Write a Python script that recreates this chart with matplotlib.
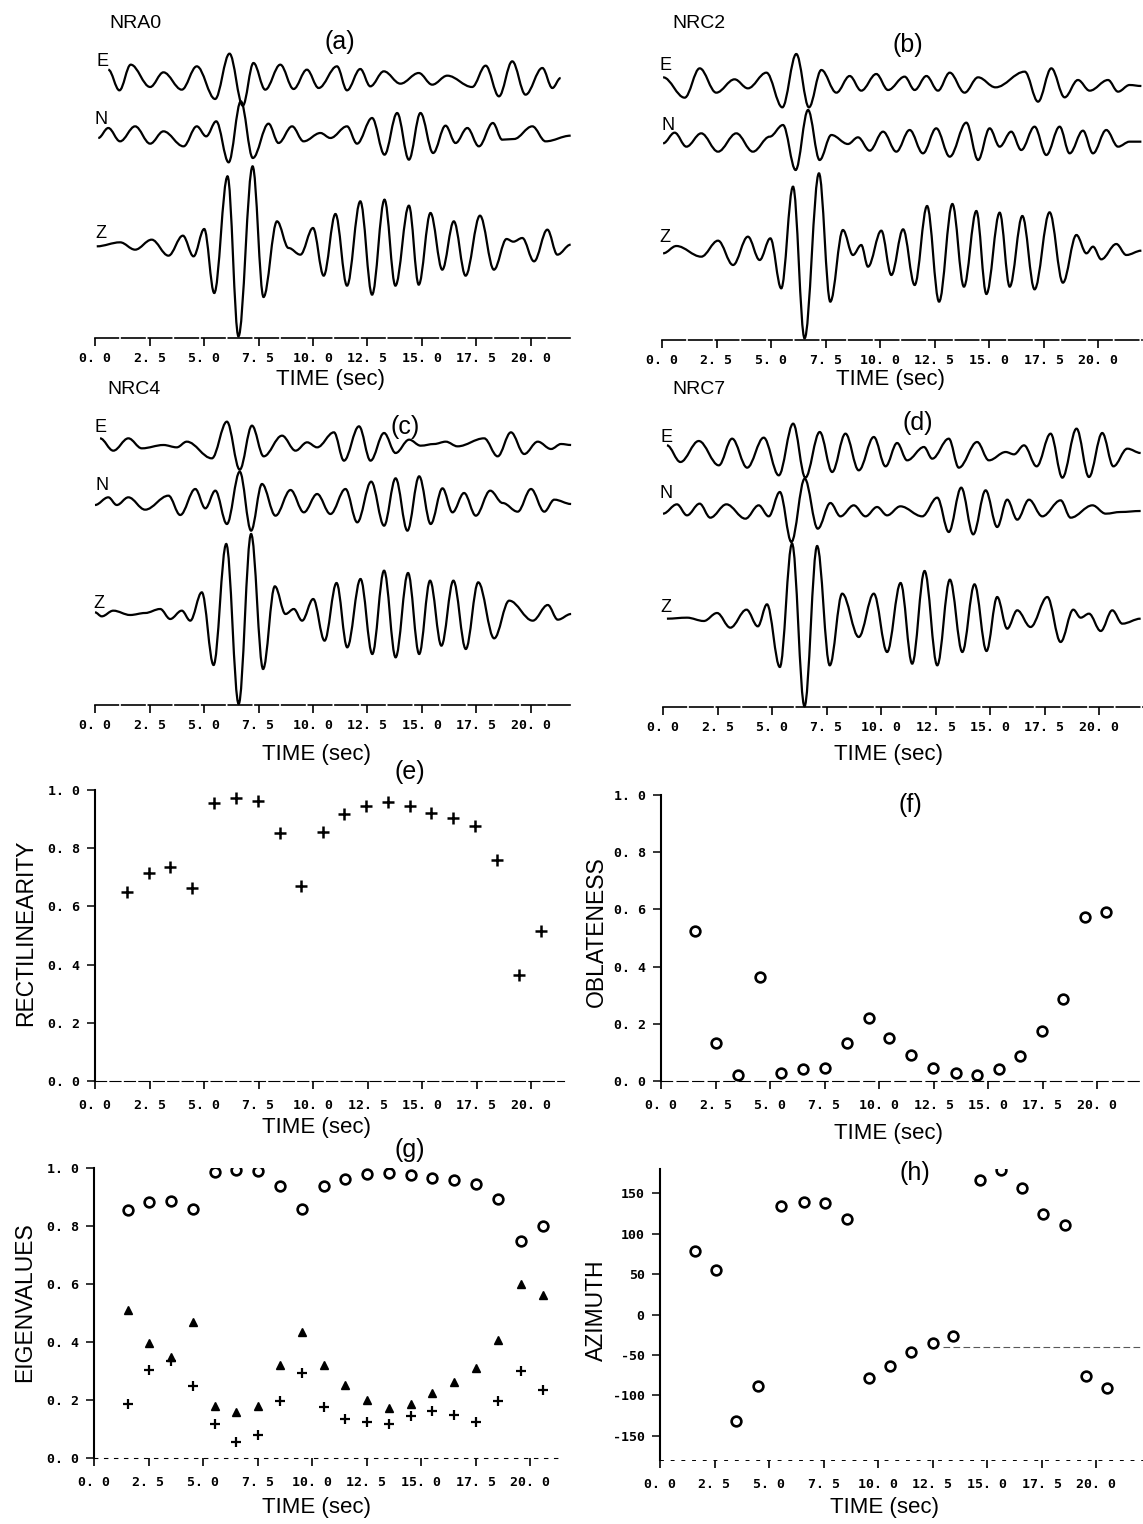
import matplotlib
matplotlib.use("Agg")
import matplotlib.pyplot as plt
from matplotlib.path import Path
from matplotlib.patches import PathPatch

W, H = 1143, 1524

# ---- seismogram extrema: (time [s], amplitude) ----
nra0_e = [(0.61, 1.5), (1.12, -4.7), (1.64, 3.0), (2.53, -3.7), (3.14, 0.7), (3.98, -4.5),
          (4.67, 2.5), (5.51, -7.3), (6.17, 6.3), (6.78, -9.3), (7.27, 3.5), (7.81, -4.5),
          (8.50, 3.0), (9.11, -4.3), (9.72, 1.5), (10.26, -4.0), (11.10, 2.5), (11.56, -4.7),
          (12.17, 1.7), (12.63, -3.5), (13.25, 1.0), (14.01, -2.7), (14.85, 0.5), (15.47, -3.0),
          (16.16, -0.3), (17.30, -3.7), (17.92, 2.7), (18.53, -6.5), (19.14, 4.0), (19.75, -6.0),
          (20.52, 2.0), (20.98, -4.0), (21.36, -1.0)]
nra0_n = [(0.15, -1.0), (0.61, 2.0), (1.15, -2.0), (1.84, 2.5), (2.53, -2.7), (3.14, 1.0),
          (4.06, -3.5), (4.67, 2.5), (5.10, -0.5), (5.56, 4.0), (6.13, -8.3), (6.69, 10.0),
          (7.24, -7.0), (7.96, 3.3), (8.42, -2.5), (9.04, 2.5), (9.57, -2.0), (10.34, 0.5),
          (10.80, -1.0), (11.56, 2.5), (12.02, -2.7), (12.71, 5.0), (13.28, -6.0), (13.86, 6.5),
          (14.40, -7.5), (14.93, 6.5), (15.51, -5.5), (16.08, 2.7), (16.54, -2.5), (17.08, 2.0),
          (17.61, -3.5), (18.25, 3.5), (18.68, -1.5), (19.22, -1.3), (20.06, 2.5), (20.67, -2.0),
          (21.82, -0.3)]
nra0_z = [(0.08, 0.0), (1.15, 1.2), (1.84, -1.0), (2.60, 2.0), (3.37, -2.8), (4.03, 3.2),
          (4.52, -3.0), (5.01, 5.2), (5.47, -14.0), (6.08, 21.0), (6.58, -27.0), (7.23, 24.0),
          (7.73, -15.2), (8.35, 7.5), (8.88, -0.5), (9.42, -2.5), (10.00, 5.5), (10.49, -8.8),
          (11.03, 9.7), (11.56, -11.8), (12.17, 13.5), (12.71, -14.5), (13.28, 14.0), (13.78, -11.8),
          (14.40, 12.2), (14.85, -11.5), (15.39, 10.0), (15.93, -7.0), (16.46, 7.5), (17.00, -8.8),
          (17.66, 9.2), (18.30, -7.0), (18.88, 2.2), (19.19, 1.4), (19.60, 2.5), (20.14, -4.5),
          (20.75, 5.0), (21.21, -2.5), (21.82, 0.5)]

nrc2_e = [(0.05, 0.8), (1.04, -5.3), (1.73, 3.5), (2.49, -3.8), (3.33, 0.2), (3.94, -2.5),
          (4.79, 2.2), (5.52, -8.2), (6.16, 7.8), (6.74, -8.2), (7.31, 3.0), (8.00, -3.8),
          (8.61, 1.2), (9.14, -3.2), (9.83, 1.8), (10.37, -3.0), (11.13, 1.0), (11.59, -3.0),
          (12.13, 1.2), (12.66, -3.2), (13.20, 2.2), (13.88, -3.8), (14.50, 0.8), (15.30, -2.2),
          (16.64, 2.5), (17.25, -6.5), (17.86, 3.5), (18.47, -5.2), (19.08, 0.0), (19.62, -3.2),
          (20.46, 0.0), (20.92, -3.5), (21.45, -1.5), (21.99, -1.8)]
nrc2_n = [(0.05, -1.5), (0.58, 1.7), (1.12, -2.5), (1.80, 1.5), (2.57, -4.0), (3.41, 1.5),
          (4.17, -4.0), (4.94, 0.5), (5.55, 4.0), (6.13, -9.5), (6.70, 8.5), (7.23, -6.5),
          (7.77, 1.0), (8.53, -1.7), (8.99, 0.3), (9.53, -3.7), (10.14, 2.0), (10.75, -4.0),
          (11.36, 2.5), (11.97, -4.5), (12.58, 3.0), (13.20, -5.5), (13.96, 4.7), (14.50, -6.5),
          (15.03, 3.0), (15.49, -2.5), (16.02, 2.0), (16.48, -3.5), (17.09, 3.5), (17.63, -5.0),
          (18.24, 3.5), (18.70, -4.5), (19.31, 2.3), (19.77, -4.5), (20.38, 2.5), (20.92, -2.5),
          (21.45, -1.0), (21.99, -1.0)]
nrc2_z = [(0.05, -0.5), (0.66, 1.7), (1.80, -1.5), (2.57, 3.3), (3.26, -4.0), (3.94, 4.5),
          (4.48, -2.5), (4.97, 4.0), (5.47, -11.0), (6.01, 19.5), (6.54, -26.0), (7.20, 23.5),
          (7.72, -15.0), (8.30, 6.5), (8.76, -1.0), (9.14, 2.0), (9.45, -4.5), (10.06, 6.3),
          (10.52, -7.0), (11.06, 6.7), (11.59, -10.0), (12.16, 13.7), (12.71, -15.0), (13.32, 14.3),
          (13.85, -10.5), (14.42, 12.2), (14.88, -12.7), (15.49, 11.7), (15.95, -10.5), (16.53, 10.7),
          (17.09, -11.3), (17.78, 11.8), (18.39, -9.3), (19.01, 5.0), (19.47, -0.5), (19.77, 1.5),
          (20.15, -2.3), (20.84, 2.3), (21.30, -1.0), (21.99, 0.3)]

nrc4_e = [(0.23, 2.2), (0.84, -1.5), (1.53, 2.2), (2.15, -0.8), (3.14, 0.2), (3.75, -0.5),
          (4.21, 1.2), (5.36, -3.8), (6.05, 7.2), (6.64, -7.2), (7.20, 6.0), (7.74, -3.2),
          (8.58, 3.0), (9.20, -1.5), (9.73, 1.0), (10.19, -0.5), (10.96, 4.0), (11.42, -4.5),
          (12.11, 5.8), (12.64, -4.5), (13.26, 3.8), (13.79, -2.2), (14.41, 1.8), (14.94, 0.0),
          (15.56, 0.5), (16.09, 1.2), (16.63, -0.2), (17.85, 2.2), (18.47, -3.2), (19.08, 4.0),
          (19.69, -2.5), (20.31, 1.2), (20.92, -1.0), (21.38, 0.5), (21.84, 0.2)]
nrc4_n = [(0.00, -0.8), (0.61, 1.5), (1.00, -0.8), (1.53, 1.5), (2.30, -2.2), (3.37, 2.0),
          (3.91, -3.8), (4.60, 4.0), (5.06, -1.8), (5.52, 3.5), (6.05, -6.5), (6.64, 9.2),
          (7.16, -8.5), (7.66, 5.5), (8.28, -4.0), (8.97, 3.7), (9.58, -3.0), (10.19, 2.5),
          (10.80, -3.5), (11.49, 4.0), (12.03, -6.0), (12.67, 6.2), (13.26, -7.0), (13.79, 7.2),
          (14.33, -8.5), (14.87, 7.8), (15.40, -6.5), (15.94, 4.2), (16.40, -3.0), (16.93, 2.8),
          (17.47, -4.0), (18.13, 3.5), (18.70, -0.2), (19.39, -2.8), (20.00, 4.0), (20.61, -2.8),
          (21.07, 0.8), (21.84, -0.5)]
nrc4_z = [(0.00, 0.5), (0.31, -0.7), (0.84, 1.0), (1.61, -0.3), (2.30, 0.3), (2.99, 1.5),
          (3.45, -1.5), (3.98, 1.0), (4.37, -2.0), (4.90, 6.5), (5.44, -15.3), (6.02, 21.0),
          (6.59, -27.0), (7.16, 24.0), (7.71, -16.5), (8.25, 8.3), (8.74, 0.0), (9.12, 1.5),
          (9.50, -2.0), (10.01, 4.5), (10.53, -8.0), (11.08, 9.3), (11.57, -10.0), (12.18, 10.5),
          (12.72, -12.0), (13.26, 13.0), (13.79, -13.0), (14.36, 12.3), (14.87, -12.0), (15.37, 10.0),
          (15.89, -9.5), (16.44, 10.0), (17.01, -10.5), (17.58, 9.5), (18.31, -7.3), (19.00, 4.0),
          (20.08, -2.0), (20.77, 2.7), (21.23, -1.7), (21.84, 0.0)]

nrc7_e = [(0.18, 1.5), (0.80, -3.5), (1.64, 2.8), (2.56, -4.5), (3.17, 3.5), (3.86, -5.2),
          (4.62, 3.8), (5.31, -7.5), (5.97, 8.0), (6.53, -8.2), (7.19, 5.5), (7.76, -6.5),
          (8.37, 5.0), (8.98, -6.0), (9.67, 4.0), (10.21, -4.8), (10.74, 2.2), (11.20, -3.0),
          (11.97, 1.0), (12.35, -2.5), (13.11, 3.5), (13.57, -5.2), (14.41, 2.5), (14.95, -3.0),
          (15.72, -0.5), (16.10, -1.2), (16.56, 1.5), (17.14, -4.8), (17.78, 5.0), (18.32, -8.2),
          (18.97, 6.5), (19.54, -8.0), (20.15, 5.2), (20.66, -4.8), (21.30, 0.5), (21.91, -0.8)]
nrc7_n = [(0.00, -0.5), (0.64, 2.3), (1.10, -1.0), (1.68, 2.5), (2.17, -1.7), (2.91, 2.3),
          (3.78, -2.0), (4.39, 2.0), (4.85, -1.3), (5.36, 6.0), (5.89, -9.0), (6.50, 10.0),
          (7.10, -5.0), (7.68, 2.7), (8.14, -1.3), (8.75, 2.0), (9.29, -1.3), (9.82, 1.5),
          (10.28, -1.0), (10.89, 1.7), (11.89, -1.3), (12.58, 4.3), (13.11, -6.0), (13.68, 7.3),
          (14.23, -6.7), (14.80, 6.5), (15.33, -4.5), (15.79, 3.7), (16.25, -2.3), (16.79, 3.7),
          (17.40, -1.3), (18.24, 3.5), (18.70, -1.7), (19.70, 2.0), (20.31, -0.5), (20.99, 0.0),
          (21.91, 0.3)]
nrc7_z = [(0.18, 0.0), (1.10, 0.3), (1.87, -0.7), (2.48, 1.7), (3.09, -2.7), (3.83, 2.7),
          (4.35, -2.3), (4.77, 4.3), (5.36, -14.5), (5.92, 22.5), (6.49, -26.3), (7.07, 21.8),
          (7.65, -14.0), (8.22, 7.5), (8.98, -5.5), (9.67, 7.5), (10.28, -10.0), (10.90, 10.7),
          (11.43, -13.5), (12.00, 14.3), (12.58, -14.0), (13.16, 11.7), (13.73, -10.0), (14.29, 10.3),
          (14.84, -9.7), (15.33, 6.5), (15.79, -3.0), (16.25, 2.5), (16.86, -2.5), (17.63, 6.5),
          (18.24, -7.0), (18.82, 2.7), (19.16, 0.3), (19.54, 1.5), (20.08, -3.7), (20.61, 2.5),
          (21.07, -1.5), (21.91, 0.0)]

stations = ["NRA0", "NRC2", "NRC4", "NRC7"]
components = ["E", "N", "Z"]
seis_traces = [(nra0_e, nra0_n, nra0_z), (nrc2_e, nrc2_n, nrc2_z),
               (nrc4_e, nrc4_n, nrc4_z), (nrc7_e, nrc7_n, nrc7_z)]

# ---- polarisation analysis, station NRA0 ----
rect_t = [1.47, 2.47, 3.43, 4.47, 5.47, 6.47, 7.47, 8.47, 9.43, 10.47,
          11.43, 12.43, 13.43, 14.43, 15.43, 16.43, 17.43, 18.43, 19.47, 20.47]
rectilinearity = [0.651, 0.716, 0.734, 0.664, 0.956, 0.974, 0.963, 0.851, 0.670, 0.855,
                  0.916, 0.946, 0.958, 0.945, 0.920, 0.903, 0.877, 0.759, 0.364, 0.515]

obl_t = [1.58, 2.53, 3.53, 4.53, 5.49, 6.52, 7.52, 8.52, 9.52, 10.48,
         11.48, 12.48, 13.51, 14.51, 15.51, 16.47, 17.47, 18.44, 19.43, 20.43]
oblateness = [0.526, 0.134, 0.022, 0.365, 0.029, 0.041, 0.045, 0.134, 0.219, 0.152,
              0.091, 0.044, 0.027, 0.021, 0.043, 0.087, 0.176, 0.287, 0.572, 0.592]

eig_t = [1.54, 2.52, 3.54, 4.54, 5.55, 6.52, 7.52, 8.53, 9.53, 10.53,
         11.52, 12.52, 13.53, 14.53, 15.52, 16.50, 17.50, 18.55, 19.57, 20.58]
eig_1 = [0.854, 0.882, 0.885, 0.859, 0.985, 0.992, 0.989, 0.937, 0.859, 0.937,
         0.962, 0.979, 0.983, 0.976, 0.966, 0.957, 0.945, 0.893, 0.747, 0.799]
eig_2 = [0.511, 0.397, 0.347, 0.469, 0.178, 0.157, 0.178, 0.321, 0.433, 0.321,
         0.253, 0.201, 0.172, 0.187, 0.224, 0.261, 0.310, 0.408, 0.601, 0.562]
eig_3 = [0.187, 0.305, 0.333, 0.247, 0.117, 0.054, 0.080, 0.195, 0.293, 0.176,
         0.134, 0.123, 0.117, 0.144, 0.161, 0.149, 0.123, 0.198, 0.301, 0.236]

azi_t = [1.59, 2.57, 3.49, 4.49, 5.55, 6.59, 7.59, 8.60, 9.57, 10.53,
         11.53, 12.50, 13.46, 14.67, 15.64, 16.61, 17.59, 18.59, 19.53, 20.50]
azimuth = [79, 55, -132, -89, 134, 139, 138, 118, -78, -64,
           -46, -35, -26, 166, 179, 157, 124, 111, -76, -91]
azi_ref_t = [13.0, 22.1]
azi_ref = [-40, -40]

time_ticks = [0, 2.5, 5, 7.5, 10, 12.5, 15, 17.5, 20]
time_ticklabels = ["0. 0", "2. 5", "5. 0", "7. 5", "10. 0", "12. 5", "15. 0", "17. 5", "20. 0"]
unit_ticks = [0, 0.2, 0.4, 0.6, 0.8, 1.0]
unit_ticklabels = ["0. 0", "0. 2", "0. 4", "0. 6", "0. 8", "1. 0"]
azi_ticks = [-150, -100, -50, 0, 50, 100, 150]
azi_ticklabels = ["-150", "-100", "-50", "0", "50", "100", "150"]

TXT = "Liberation Sans"
TICKFONT = dict(family="DejaVu Sans Mono", weight="bold", size=9.5)
PX_PER_SEC = 21.8

fig = plt.figure(figsize=(W / 100, H / 100), dpi=100)


def add_axes_px(left, bottom, width, height):
    return fig.add_axes([left / W, 1 - bottom / H, width / W, height / H])


def ftext(x, y, s, **kw):
    fig.text(x / W, 1 - y / H, s, ha="center", va="center", **kw)


def trace_path(pts, offset, k=0.36):
    verts = [(pts[0][0], offset + pts[0][1])]
    codes = [Path.MOVETO]
    for (t0, a0), (t1, a1) in zip(pts[:-1], pts[1:]):
        dt = t1 - t0
        verts += [(t0 + k * dt, offset + a0), (t1 - k * dt, offset + a1), (t1, offset + a1)]
        codes += [Path.CURVE4] * 3
    return Path(verts, codes)


def style_time_axis(ax, pad):
    ax.set_xticks(time_ticks)
    ax.set_xticklabels(time_ticklabels, fontdict=TICKFONT)
    ax.tick_params(axis="x", direction="out", length=6, width=1.2, pad=pad)
    for s in ["top", "right"]:
        ax.spines[s].set_visible(False)


def style_value_axis(ax, ticks, labels):
    ax.set_yticks(ticks)
    ax.set_yticklabels(labels, fontdict=TICKFONT)
    ax.tick_params(axis="y", direction="out", length=6, width=1.1, pad=5)
    ax.spines["left"].set_linewidth(1.5)


# ---- seismogram panels (a)-(d) ----
seis_layout = [
    dict(left=95, bottom=338, xmax=21.8, off=(79, 61, 27.5), name=(135, 23), letter=(340, 42),
         comp=[(102, 62), (101, 119), (101, 234)], time=(330, 380), tag="(a)"),
    dict(left=662, bottom=340, xmax=22.0, off=(78, 60.5, 26.5), name=(699, 23), letter=(908, 45),
         comp=[(665, 66), (668, 125), (665, 237)], time=(890, 380), tag="(b)"),
    dict(left=95, bottom=705, xmax=21.8, off=(77.8, 60.8, 27.3), name=(134, 390), letter=(405, 427),
         comp=[(101, 428), (102, 485), (99, 603)], time=(316, 755), tag="(c)"),
    dict(left=663, bottom=707, xmax=22.0, off=(77, 58.5, 26.5), name=(699, 390), letter=(918, 423),
         comp=[(666, 437), (666, 494), (666, 608)], time=(888, 755), tag="(d)"),
]
unit_px = 10 / 3.0
for lay, station, traces in zip(seis_layout, stations, seis_traces):
    ax = add_axes_px(lay["left"], lay["bottom"], lay["xmax"] * PX_PER_SEC, 95 * unit_px)
    ax.set_xlim(0, lay["xmax"])
    ax.set_ylim(0, 95)
    for pts, off in zip(traces, lay["off"]):
        ax.add_patch(PathPatch(trace_path(pts, off), fill=False, lw=1.6, ec="black",
                               clip_on=False))
    ax.set_yticks([])
    ax.spines["left"].set_visible(False)
    ax.spines["bottom"].set_linewidth(1.2)
    ax.spines["bottom"].set_linestyle((0, (14, 2)))
    style_time_axis(ax, pad=4)
    ax.patch.set_visible(False)
    ftext(*lay["name"], station, family=TXT, fontsize=14)
    ftext(*lay["letter"], lay["tag"], family=TXT, fontsize=18)
    for c, pos in zip(components, lay["comp"]):
        ftext(*pos, c, family=TXT, fontsize=13)
    ftext(*lay["time"], "TIME (sec)", family=TXT, fontsize=16)

# ---- (e) rectilinearity ----
ax = add_axes_px(95, 1081, 21.5 * PX_PER_SEC, 291)
ax.plot(rect_t, rectilinearity, ls="none", marker="+", ms=8, mew=1.8, color="black")
ax.set_xlim(0, 21.5)
ax.set_ylim(0, 1.0)
style_value_axis(ax, unit_ticks, unit_ticklabels)
style_time_axis(ax, pad=7)
ax.spines["bottom"].set_linestyle((0, (10, 3)))
ftext(410, 772, "(e)", family=TXT, fontsize=18)
ftext(317, 1127, "TIME (sec)", family=TXT, fontsize=16)
ftext(26, 933, "RECTILINEARITY", family=TXT, fontsize=16.5, rotation=90)

# ---- (f) oblateness ----
ax = add_axes_px(661, 1081, 22.1 * PX_PER_SEC, 286)
ax.plot(obl_t, oblateness, ls="none", marker="o", ms=7, mew=1.9, mfc="none", color="black")
ax.set_xlim(0, 22.1)
ax.set_ylim(0, 1.0)
style_value_axis(ax, unit_ticks, unit_ticklabels)
style_time_axis(ax, pad=7)
ax.spines["bottom"].set_linestyle((0, (10, 4)))
ftext(910, 805, "(f)", family=TXT, fontsize=18)
ftext(888, 1133, "TIME (sec)", family=TXT, fontsize=16)
ftext(596, 932, "OBLATENESS", family=TXT, fontsize=16.5, rotation=90)

# ---- (g) eigenvalues ----
ax = add_axes_px(94, 1458, 21.5 * PX_PER_SEC, 290)
ax.plot(eig_t, eig_1, ls="none", marker="o", ms=7, mew=1.9, mfc="none", color="black")
ax.plot(eig_t, eig_2, ls="none", marker="^", ms=6, color="black")
ax.plot(eig_t, eig_3, ls="none", marker="+", ms=6.5, mew=1.6, color="black")
ax.set_xlim(0, 21.5)
ax.set_ylim(0, 1.0)
style_value_axis(ax, unit_ticks, unit_ticklabels)
style_time_axis(ax, pad=7)
ax.spines["bottom"].set_linestyle((0, (3, 6)))
ax.spines["bottom"].set_linewidth(0.8)
ftext(410, 1150, "(g)", family=TXT, fontsize=18)
ftext(316, 1508, "TIME (sec)", family=TXT, fontsize=16)
ftext(25, 1302, "EIGENVALUES", family=TXT, fontsize=16.5, rotation=90)

# ---- (h) azimuth ----
ax = add_axes_px(660, 1460, 22.1 * PX_PER_SEC, 291)
ax.plot(azi_t, azimuth, ls="none", marker="o", ms=7, mew=1.9, mfc="none", color="black")
ax.plot(azi_ref_t, azi_ref, ls=(0, (6, 3)), lw=0.8, color="0.35")
ax.set_xlim(0, 22.1)
ax.set_ylim(-180, 180)
style_value_axis(ax, azi_ticks, azi_ticklabels)
style_time_axis(ax, pad=7)
ax.spines["bottom"].set_linestyle((0, (3, 8)))
ax.spines["bottom"].set_linewidth(0.7)
ftext(915, 1173, "(h)", family=TXT, fontsize=18)
ftext(885, 1507, "TIME (sec)", family=TXT, fontsize=16)
ftext(596, 1310, "AZIMUTH", family=TXT, fontsize=16.5, rotation=90)

fig.savefig("out.png", dpi=100)
